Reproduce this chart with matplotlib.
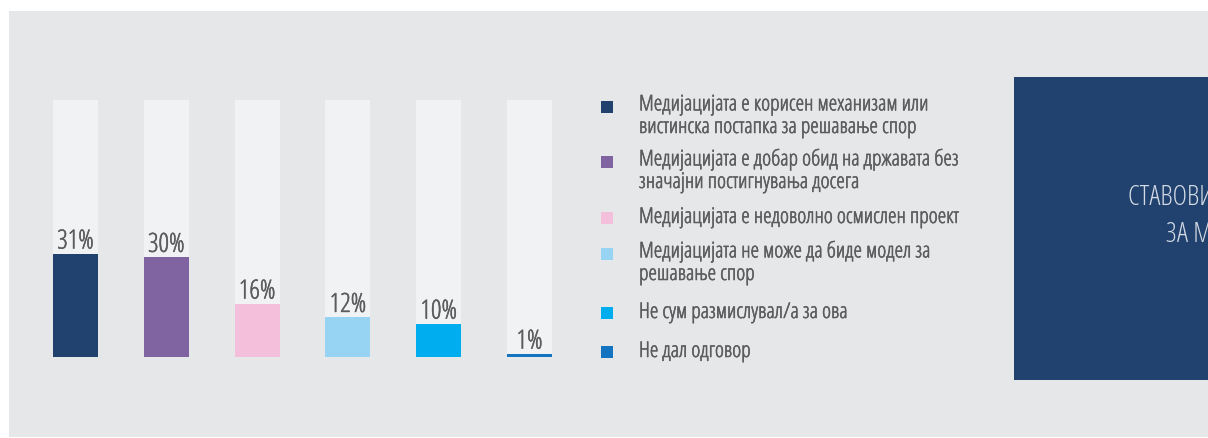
import matplotlib
matplotlib.use("Agg")
import matplotlib.pyplot as plt
from matplotlib.patches import Rectangle
import matplotlib.patheffects as pe

W, H = 1208, 438

categories = [
    "Медијацијата е корисен механизам или\nвистинска постапка за решавање спор",
    "Медијацијата е добар обид на државата без\nзначајни постигнувања досега",
    "Медијацијата е недоволно осмислен проект",
    "Медијацијата не може да биде модел за\nрешавање спор",
    "Не сум размислувал/а за ова",
    "Не дал одговор",
]
values = [31, 30, 16, 12, 10, 1]
value_labels = ["31%", "30%", "16%", "12%", "10%", "1%"]
colors = ["#21426e", "#8064a2", "#f4bfdb", "#97d3f2", "#00aeef", "#1474bf"]
TRACK_MAX = 77
title_lines = ["СТАВОВИ НА ИСПИТАНИЦИТЕ", "ЗА МЕДИЈАЦИЈАТА"]

FAM = ["Open Sans", "DejaVu Sans"]
ST = "condensed"

BG = "#e6e7e8"
TRACK = "#f1f2f4"
TXT = "#5b5c5e"

fig = plt.figure(figsize=(W / 100, H / 100), dpi=100, facecolor="white")

def fx(px):
    return px / W

def fy(py):
    return 1 - py / H

fig.add_artist(Rectangle((fx(9), fy(437)), fx(W - 9), (437 - 11) / H,
                         transform=fig.transFigure, facecolor=BG, edgecolor="none", zorder=0))

left_px, right_px = 30.1, 574.9
top_px, bot_px = 100, 357
ax = fig.add_axes([fx(left_px), fy(bot_px), fx(right_px - left_px), (bot_px - top_px) / H])
ax.set_facecolor("none")
ax.set_xlim(-0.5, 5.5)
ax.set_ylim(0, TRACK_MAX)
x = list(range(len(values)))
bw = 45 / 90.8
ax.bar(x, [TRACK_MAX] * len(values), width=bw, color=TRACK, zorder=1)
ax.bar(x, values, width=bw, color=colors, zorder=2)
for xi, v, lab in zip(x, values, value_labels):
    ax.annotate(lab, (xi, v), xytext=(0, 3.6), textcoords="offset points",
                ha="center", va="baseline", fontsize=19, color=TXT, family=FAM,
                fontstretch=ST, zorder=3,
                path_effects=[pe.withStroke(linewidth=0.35, foreground=TXT)])
ax.axis("off")

first_base = [112, 167, 223, 259, 318, 357]
PITCH = 21
for by, c, lab in zip(first_base, colors, categories):
    fig.add_artist(Rectangle((fx(601), fy(by + 1)), fx(12), 12 / H,
                             transform=fig.transFigure, facecolor=c, edgecolor="none"))
    nlines = lab.count("\n") + 1
    fig.text(fx(639), fy(by + PITCH * (nlines - 1)), lab, ha="left", va="baseline",
             fontsize=15.6, color=TXT, family=FAM, fontstretch=ST, linespacing=1.1,
             path_effects=[pe.withStroke(linewidth=0.4, foreground=TXT)])

fig.add_artist(Rectangle((fx(1014), fy(380)), fx(W - 1014), (380 - 77) / H,
                         transform=fig.transFigure, facecolor="#21426e", edgecolor="none"))
fig.text(fx(1128), fy(205), title_lines[0], ha="left", va="baseline", fontsize=20,
         color="#d3dae5", family=FAM, fontstretch=ST, fontweight="light")
fig.text(fx(1166), fy(242), title_lines[1], ha="left", va="baseline", fontsize=20,
         color="#d3dae5", family=FAM, fontstretch=ST, fontweight="light")

fig.savefig("out.png", dpi=100, facecolor="white")
